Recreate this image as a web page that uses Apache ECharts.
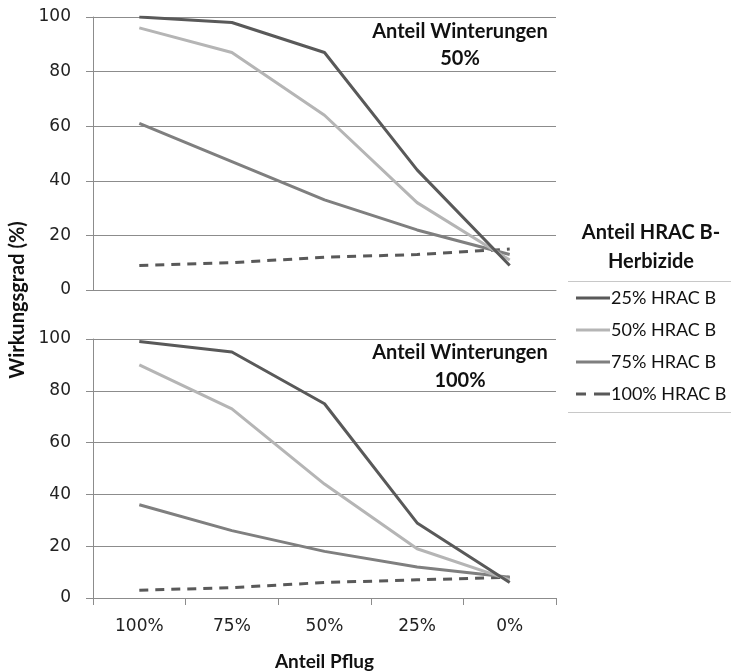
<!DOCTYPE html>
<html><head><meta charset="utf-8">
<script src="https://cdn.jsdelivr.net/npm/echarts@6/dist/echarts.min.js"></script>
<style>html,body{margin:0;padding:0;background:#fff}#c{width:731px;height:672px}</style>
</head><body><div id="c"></div>
<script>
const categories = ['100%', '75%', '50%', '25%', '0%'];
const seriesNames = ['25% HRAC B', '50% HRAC B', '75% HRAC B', '100% HRAC B'];
// Anteil Winterungen 50%
const top25 = [100, 98, 87, 44, 9];
const top50 = [96, 87, 64, 32, 11];
const top75 = [61, 47, 33, 22, 13];
const top100 = [9, 10, 12, 13, 15];
// Anteil Winterungen 100%
const bot25 = [99, 95, 75, 29, 6];
const bot50 = [90, 73, 44, 19, 7];
const bot75 = [36, 26, 18, 12, 8];
const bot100 = [3, 4, 6, 7, 8];

const colors = ['#595959', '#b5b5b5', '#7f7f7f', '#595959'];
const font = 'Lato, "Liberation Sans", sans-serif';
const tickFont = '"DejaVu Sans", sans-serif';

function mk(i, data, gi) {
  return {
    name: seriesNames[i], type: 'line', data: data, xAxisIndex: gi, yAxisIndex: gi,
    symbol: 'none', smooth: false, z: 10 - i,
    lineStyle: { color: colors[i], width: 3, type: i === 3 ? [9, 7] : 'solid' },
    itemStyle: { color: colors[i] }
  };
}
const axisLine = { show: true, lineStyle: { color: '#8c8c8c', width: 1 } };
const yAxisCommon = {
  type: 'value', min: 0, max: 100, interval: 20,
  axisLine: axisLine,
  axisTick: { show: true, inside: false, length: 7, lineStyle: { color: '#8c8c8c' } },
  axisLabel: { fontFamily: tickFont, fontSize: 17, color: '#222', margin: 22 },
  splitLine: { show: true, lineStyle: { color: '#8c8c8c', width: 1 } }
};
const titleStyle = { fontFamily: font, fontWeight: 'bold', fontSize: 20, fill: '#111', align: 'center', verticalAlign: 'middle' };
function txt(x, y, s, extra) {
  return Object.assign({ type: 'text', x: x, y: y, style: Object.assign({ text: s }, titleStyle) }, extra || {});
}
const chart = echarts.init(document.getElementById('c'));
chart.setOption({
  animation: false,
  backgroundColor: '#fff',
  grid: [
    { left: 93, top: 17, width: 463, height: 273, outerBoundsMode: 'none', containLabel: false },
    { left: 93, top: 339, width: 463, height: 259, outerBoundsMode: 'none', containLabel: false }
  ],
  xAxis: [
    { type: 'category', gridIndex: 0, data: categories, boundaryGap: true,
      axisLine: axisLine, axisTick: { show: false }, axisLabel: { show: false } },
    { type: 'category', gridIndex: 1, data: categories, boundaryGap: true,
      axisLine: axisLine, axisTick: { show: true, length: 7, lineStyle: { color: '#8c8c8c' } },
      axisLabel: { fontFamily: tickFont, fontSize: 17, color: '#222', margin: 20 },
      name: 'Anteil Pflug', nameLocation: 'middle', nameGap: 54,
      nameTextStyle: { fontFamily: font, fontWeight: 'bold', fontSize: 19, color: '#111' } }
  ],
  yAxis: [
    Object.assign({ gridIndex: 0 }, yAxisCommon),
    Object.assign({ gridIndex: 1 }, yAxisCommon)
  ],
  legend: {
    orient: 'vertical', left: 571, top: 284, itemWidth: 34, itemHeight: 3, itemGap: 14,
    data: [
      { name: seriesNames[0], icon: 'rect' },
      { name: seriesNames[1], icon: 'rect' },
      { name: seriesNames[2], icon: 'rect' },
      { name: seriesNames[3], icon: 'path://M0,0h10v3h-10z M18,0h16v3h-16z' }
    ],
    textStyle: { fontFamily: font, fontSize: 18, color: '#111', padding: [0, 0, 0, -4] }
  },
  series: [
    mk(0, top25, 0), mk(1, top50, 0), mk(2, top75, 0), mk(3, top100, 0),
    mk(0, bot25, 1), mk(1, bot50, 1), mk(2, bot75, 1), mk(3, bot100, 1)
  ],
  graphic: [
    txt(18, 300, 'Wirkungsgrad (%)', { rotation: Math.PI / 2 }),
    txt(460, 32, 'Anteil Winterungen'),
    txt(460, 59, '50%'),
    txt(460, 353, 'Anteil Winterungen'),
    txt(460, 381, '100%'),
    txt(651, 233, 'Anteil HRAC B-'),
    txt(651, 262, 'Herbizide'),
    { type: 'line', shape: { x1: 568, y1: 281.5, x2: 731, y2: 281.5 }, style: { stroke: '#c8c8c8', lineWidth: 1 } },
    { type: 'line', shape: { x1: 568, y1: 412.5, x2: 731, y2: 412.5 }, style: { stroke: '#c8c8c8', lineWidth: 1 } }
  ]
});
</script></body></html>
